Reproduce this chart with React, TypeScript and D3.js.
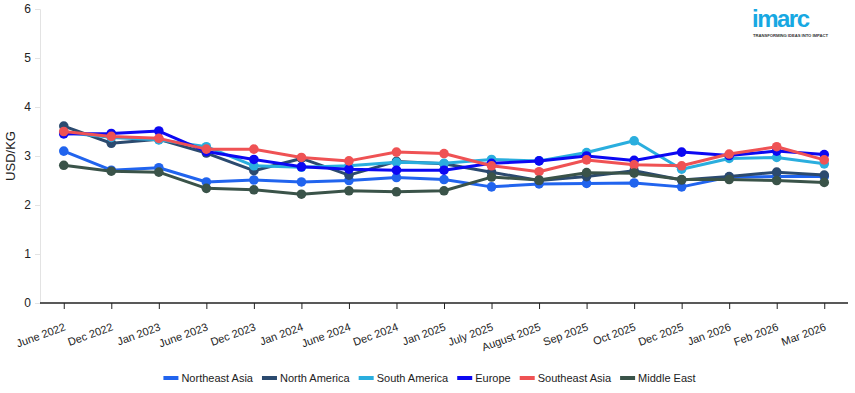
import * as d3 from 'd3';

import React, { useEffect, useRef } from 'react';

const categories: string[] = [
  'June 2022', 'Dec 2022', 'Jan 2023', 'June 2023', 'Dec 2023', 'Jan 2024', 'June 2024', 'Dec 2024',
  'Jan 2025', 'July 2025', 'August 2025', 'Sep 2025', 'Oct 2025', 'Dec 2025', 'Jan 2026', 'Feb 2026', 'Mar 2026',
];

const northeastAsia = [3.1, 2.71, 2.76, 2.47, 2.51, 2.47, 2.5, 2.56, 2.52, 2.37, 2.43, 2.44, 2.45, 2.37, 2.57, 2.58, 2.58];
const northAmerica = [3.61, 3.26, 3.34, 3.06, 2.7, 2.95, 2.61, 2.89, 2.84, 2.67, 2.5, 2.58, 2.7, 2.51, 2.58, 2.67, 2.61];
const southAmerica = [3.48, 3.38, 3.33, 3.19, 2.8, 2.77, 2.8, 2.87, 2.85, 2.93, 2.9, 3.07, 3.31, 2.73, 2.95, 2.97, 2.84];
const europe = [3.45, 3.46, 3.51, 3.09, 2.93, 2.78, 2.73, 2.71, 2.71, 2.85, 2.9, 3.0, 2.91, 3.08, 3.01, 3.1, 3.03];
const southeastAsia = [3.5, 3.4, 3.36, 3.14, 3.14, 2.97, 2.9, 3.08, 3.05, 2.8, 2.68, 2.92, 2.82, 2.8, 3.04, 3.19, 2.92];
const middleEast = [2.81, 2.69, 2.67, 2.34, 2.31, 2.22, 2.29, 2.27, 2.29, 2.57, 2.51, 2.66, 2.65, 2.52, 2.52, 2.5, 2.46];

const seriesNames = ['Northeast Asia', 'North America', 'South America', 'Europe', 'Southeast Asia', 'Middle East'];
const seriesValues = [northeastAsia, northAmerica, southAmerica, europe, southeastAsia, middleEast];
const seriesColors = ['#2164ee', '#2b4a6f', '#2aaede', '#0c08f2', '#ef5254', '#3a5349'];

const yTicks = [0, 1, 2, 3, 4, 5, 6];

const W = 855;
const H = 393;
const FONT = '"Liberation Sans", Arial, sans-serif';

export default function App() {
  const ref = useRef<SVGSVGElement>(null);

  useEffect(() => {
    const svg = d3.select(ref.current);
    svg.selectAll('*').remove();

    const left = 40;
    const right = 848;
    const top = 9;
    const bottom = 303;

    const x = d3.scalePoint<string>().domain(categories).range([left, right]).padding(0.5);
    const y = d3.scaleLinear().domain([0, 6]).range([bottom, top]);

    // y axis (light line, short ticks)
    const yAxis = svg.append('g').attr('transform', `translate(${left},0)`);
    yAxis
      .call(d3.axisLeft(y).tickValues(yTicks).tickSize(5).tickFormat(d3.format('d')))
      .call((g) => g.select('.domain').attr('stroke', '#e3e3e3'))
      .call((g) => g.selectAll('.tick line').attr('stroke', '#e3e3e3'))
      .call((g) =>
        g.selectAll('.tick text').attr('font-family', FONT).attr('font-size', 12).attr('fill', '#222').attr('x', -9),
      );

    // x axis
    svg
      .append('g')
      .attr('transform', `translate(0,${bottom})`)
      .call(d3.axisBottom(x).tickSize(6).tickSizeOuter(0))
      .call((g) => g.select('.domain').attr('stroke', '#222').attr('stroke-width', 1.5).attr('d', `M${left},0H${right}`))
      .call((g) => g.selectAll('.tick line').attr('stroke', '#222'))
      .call((g) =>
        g
          .selectAll('.tick text')
          .attr('font-family', FONT)
          .attr('font-size', 11)
          .attr('fill', '#222')
          .attr('text-anchor', 'end')
          .attr('x', 0)
          .attr('y', 0)
          .attr('dy', 0)
          .attr('transform', 'translate(2,27) rotate(-20)'),
      );

    svg
      .append('text')
      .attr('transform', `translate(15,${(top + bottom) / 2}) rotate(-90)`)
      .attr('text-anchor', 'middle')
      .attr('font-family', FONT)
      .attr('font-size', 13)
      .attr('fill', '#222')
      .text('USD/KG');

    const line = d3
      .line<number>()
      .x((_, i) => x(categories[i]) ?? 0)
      .y((d) => y(d));

    seriesValues.forEach((vals, si) => {
      const g = svg.append('g');
      g.append('path')
        .attr('d', line(vals))
        .attr('fill', 'none')
        .attr('stroke', seriesColors[si])
        .attr('stroke-width', 3)
        .attr('stroke-linejoin', 'round');
      g.selectAll('circle')
        .data(vals)
        .join('circle')
        .attr('cx', (_, i) => x(categories[i]) ?? 0)
        .attr('cy', (d) => y(d))
        .attr('r', 4.8)
        .attr('fill', seriesColors[si]);
    });

    // legend
    const legend = svg.append('g').attr('transform', 'translate(0,378)');
    const items = legend
      .selectAll('g')
      .data(seriesNames)
      .join('g');
    items
      .append('rect')
      .attr('y', -2)
      .attr('width', 15)
      .attr('height', 4)
      .attr('fill', (_, i) => seriesColors[i]);
    items
      .append('text')
      .attr('x', 18)
      .attr('dy', '0.35em')
      .attr('font-family', FONT)
      .attr('font-size', 11)
      .attr('fill', '#222')
      .text((d) => d);
    const widths: number[] = [];
    items.each(function () {
      const t = d3.select(this).select('text').node() as SVGTextElement;
      widths.push(18 + t.getComputedTextLength());
    });
    const gap = 9;
    const total = d3.sum(widths) + gap * (widths.length - 1);
    let cx = (W - total) / 2 + 2;
    items.attr('transform', (_, i) => {
      const tx = cx;
      cx += widths[i] + gap;
      return `translate(${tx},0)`;
    });

    // logo
    const logo = svg.append('g').attr('transform', 'translate(752,0)');
    logo
      .append('text')
      .attr('x', 0)
      .attr('y', 27)
      .attr('font-family', FONT)
      .attr('font-size', 24)
      .attr('font-weight', 'bold')
      .attr('fill', '#17a8e2')
      .attr('textLength', 58)
      .text('imarc');
    logo
      .append('text')
      .attr('x', 1)
      .attr('y', 37)
      .attr('font-family', FONT)
      .attr('font-size', 4.2)
      .attr('font-weight', 'bold')
      .attr('fill', '#333')
      .attr('textLength', 75)
      .text('TRANSFORMING IDEAS INTO IMPACT');
  }, []);

  return (
    <svg
      ref={ref}
      width={W}
      height={H}
      style={{ display: 'block', position: 'absolute', left: 0, top: 0, background: '#fff' }}
    ></svg>
  );
}
